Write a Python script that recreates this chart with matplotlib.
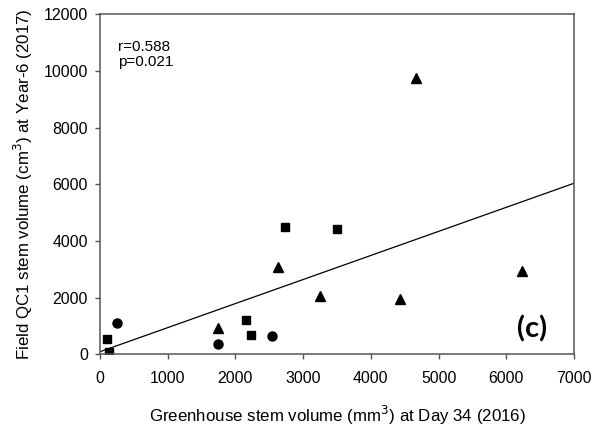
import numpy as np
import matplotlib
matplotlib.use('Agg')
import matplotlib.pyplot as plt

plt.rcParams['font.family'] = ['Liberation Sans', 'DejaVu Sans']

# Daten
kreis_x = [250, 1750, 2540]
kreis_y = [1100, 380, 670]
quadrat_x = [110, 140, 2150, 2230, 2730, 3500]
quadrat_y = [550, 100, 1230, 700, 4500, 4420]
dreieck_x = [1750, 2630, 3245, 4430, 4670, 6230]
dreieck_y = [950, 3080, 2075, 1950, 9750, 2930]

# Regressionsgerade
linie_x = [0, 7000]
linie_y = [99, 6040]

fig = plt.figure(figsize=(5.92, 4.32), dpi=100)
ax = fig.add_axes([0.1689, 0.1794, 0.8007, 0.7875])

ax.plot(kreis_x, kreis_y, 'o', color='black', markersize=6.5, linestyle='none')
ax.plot(quadrat_x, quadrat_y, 's', color='black', markersize=6, linestyle='none')
ax.plot(dreieck_x, dreieck_y, '^', color='black', markersize=6.5, linestyle='none')
ax.plot(linie_x, linie_y, color='black', linewidth=0.9)

ax.set_xlim(0, 7000)
ax.set_ylim(0, 12000)
ax.set_xticks(range(0, 7001, 1000))
ax.set_yticks(range(0, 12001, 2000))
ax.tick_params(direction='out', length=3.6, width=1, labelsize=11.4, color='#555555')
ax.tick_params(axis='x', pad=8)
ax.tick_params(axis='y', pad=5)
for s in ax.spines.values():
    s.set_color('#555555')
    s.set_linewidth(1.1)

ax.set_xlabel('Greenhouse stem volume (mm$^3$) at Day 34 (2016)', fontsize=12.2, labelpad=13)
ax.set_ylabel('Field QC1 stem volume (cm$^3$) at Year-6 (2017)', fontsize=12.2, labelpad=6)

ax.text(0.038, 0.925, 'r=0.588\np=0.021', transform=ax.transAxes, fontsize=11,
        va='top', ha='left', linespacing=1.1)
ax.text(0.943, 0.035, '(c)', transform=ax.transAxes, fontsize=21, fontweight='bold',
        family=['Lato', 'DejaVu Sans'], ha='right', va='bottom')

plt.savefig('out.png', dpi=100)
